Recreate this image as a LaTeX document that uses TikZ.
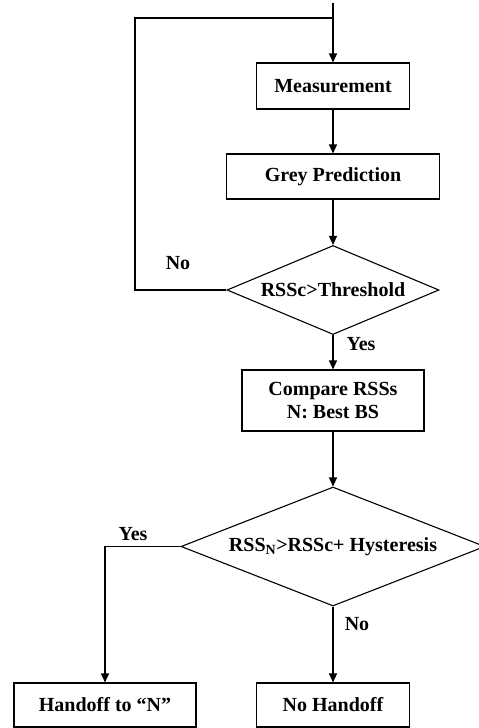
\documentclass[tikz,border=0pt]{standalone}
\usepackage{fontspec}
\setmainfont{Liberation Serif}
\usetikzlibrary{shapes.geometric,arrows.meta}
\tikzset{
  box/.style={draw, line width=1.1pt, rectangle, inner sep=0pt, align=center, font=\fontsize{20}{23}\selectfont\bfseries},
  dec/.style={draw, line width=1.1pt, diamond, inner sep=0pt, align=center, font=\fontsize{20}{23}\selectfont\bfseries},
  lbl/.style={font=\fontsize{20}{23}\selectfont\bfseries, inner sep=0pt},
  conn/.style={line width=1.1pt},
  arr/.style={conn, -{Triangle[length=9pt,width=8pt]}}
}
\begin{document}
\begin{tikzpicture}[x=1pt,y=-1pt]
\useasboundingbox (0,0) rectangle (479,728);
\node[box, minimum width=153pt, minimum height=46pt] (meas) at (333,86) {Measurement};
\node[box, minimum width=213pt, minimum height=45pt] (grey) at (333,176.5) {Grey Prediction};
\node[dec, aspect=2.38, minimum width=212pt, minimum height=89pt] (d1) at (333,290) {RSSc>Threshold};
\node[box, minimum width=182pt, minimum height=61pt] (cmp) at (333,400.5) {Compare RSSs\\N: Best BS};
\node[dec, aspect=2.55, minimum width=304pt, minimum height=119pt] (d2) at (333,546.5) {RSS\textsubscript{N}>RSSc+ Hysteresis};
\node[box, minimum width=182pt, minimum height=44pt] (hand) at (105,705) {Handoff to “N”};
\node[box, minimum width=153pt, minimum height=44pt] (noh) at (333,705) {No Handoff};
\coordinate (top) at (333,3);
\coordinate (join) at (333,18);
\coordinate (loopL) at (135,290);
\coordinate (yesL) at (105,546.5);
\draw[arr] (top) -- (meas.north);
\draw[arr] (meas) -- (grey);
\draw[arr] (grey) -- (d1);
\draw[arr] (d1) -- (cmp);
\draw[arr] (cmp) -- (d2);
\draw[arr] (d2) -- (noh);
\draw[conn] (d1.west) -- (loopL) |- (join);
\draw[arr] (d2.west) -- (yesL) -- (hand.north);
\node[lbl] (no1) at (178,263) {No};
\node[lbl] (yes1) at (361,344) {Yes};
\node[lbl] (yes2) at (133,534) {Yes};
\node[lbl] (no2) at (357,624) {No};
\end{tikzpicture}
\end{document}
